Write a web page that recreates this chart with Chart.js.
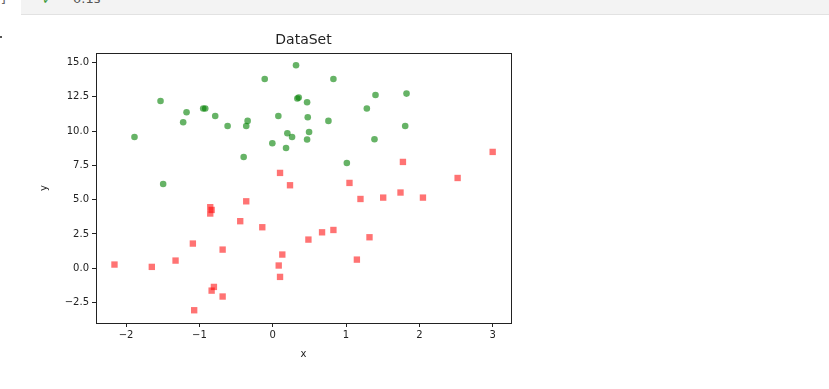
<!DOCTYPE html>
<html>
<head>
<meta charset="utf-8">
<script src="https://cdn.jsdelivr.net/npm/chart.js@4.4.1/dist/chart.umd.min.js"></script>
<style>
  html, body { margin: 0; padding: 0; background: #fff; }
  body { width: 829px; height: 389px; position: relative; overflow: hidden; font-family: "DejaVu Sans", sans-serif; }
  #bar { position: absolute; left: 21px; top: 0; width: 808px; height: 14px; background: #f3f3f3; border-bottom: 1px solid #e2e2e2; }
  #check { position: absolute; left: 42px; top: -8px; color: #3c9a3c; font-size: 13px; }
  #time { position: absolute; left: 73px; top: -9px; color: #555; font-size: 13px; }
  #prompt { position: absolute; left: -4px; top: -9px; color: #666; font-size: 13px; }
  #dot { position: absolute; left: 0; top: 36px; width: 2px; height: 2px; background: #555; }
  canvas { position: absolute; left: 0; top: 0; }
</style>
</head>
<body>
<div id="bar"></div>
<div id="prompt">-]</div>
<div id="check">&#10003;</div>
<div id="time">0.1s</div>
<div id="dot"></div>
<canvas id="chart" width="829" height="389"></canvas>
<script>
// values
const greenX = [-1.885, -1.530, -1.494, -1.221, -1.175, -0.948, -0.920, -0.784, -0.615, -0.396, -0.361,
  -0.342, -0.109, -0.005, 0.077, 0.182, 0.200, 0.264, 0.318, 0.336, 0.355, 0.469, 0.469, 0.478, 0.496,
  0.760, 0.828, 1.011, 1.284, 1.388, 1.402, 1.807, 1.825];
const greenY = [9.57, 12.19, 6.14, 10.64, 11.37, 11.64, 11.64, 11.10, 10.37, 8.11, 10.37,
  10.74, 13.80, 9.11, 11.10, 8.77, 9.84, 9.57, 14.80, 12.37, 12.44, 12.10, 9.38, 11.01, 9.93,
  10.74, 13.80, 7.67, 11.64, 9.40, 12.63, 10.37, 12.73];

const redX = [-2.158, -1.649, -1.325, -1.089, -1.071, -0.852, -0.833, -0.852, -0.833, -0.802, -0.683,
  -0.683, -0.443, -0.361, -0.142, 0.082, 0.100, 0.100, 0.131, 0.236, 0.487, 0.673, 0.828, 1.047,
  1.148, 1.197, 1.320, 1.507, 1.743, 1.776, 2.049, 2.522, 3.000];
const redY = [0.27, 0.10, 0.56, 1.80, -3.06, 4.45, 4.25, 3.99, -1.63, -1.36, 1.36,
  -2.06, 3.43, 4.88, 2.99, 0.20, 6.95, -0.63, 1.00, 6.05, 2.09, 2.62, 2.79, 6.22,
  0.63, 5.05, 2.26, 5.15, 5.52, 7.75, 5.15, 6.58, 8.48];

const xTicks = [-2, -1, 0, 1, 2, 3];
const yTicks = [-2.5, 0.0, 2.5, 5.0, 7.5, 10.0, 12.5, 15.0];
const chartTitle = "DataSet";

const toPoints = (xs, ys) => xs.map((x, i) => ({ x: x, y: ys[i] }));
const minus = (s) => s.replace("-", "\u2212");

// frame + title, like matplotlib axes
const framePlugin = {
  id: "frame",
  afterDraw(chart) {
    const { ctx, chartArea } = chart;
    ctx.save();
    ctx.strokeStyle = "#222";
    ctx.lineWidth = 1;
    ctx.strokeRect(Math.round(chartArea.left) + 0.5, Math.round(chartArea.top) + 0.5,
      Math.round(chartArea.right - chartArea.left), Math.round(chartArea.bottom - chartArea.top));
    ctx.fillStyle = "#222";
    ctx.font = "14px 'DejaVu Sans'";
    ctx.textAlign = "center";
    ctx.textBaseline = "middle";
    ctx.fillText(chartTitle, (chartArea.left + chartArea.right) / 2, 40.5);
    ctx.restore();
  },
};

const tickFont = { family: "DejaVu Sans", size: 10 };

new Chart(document.getElementById("chart"), {
  type: "scatter",
  data: {
    datasets: [
      {
        label: "green",
        data: toPoints(greenX, greenY),
        pointStyle: "circle",
        pointRadius: 3.3,
        pointHoverRadius: 3.3,
        backgroundColor: "rgba(0, 128, 0, 0.6)",
        borderWidth: 0,
      },
      {
        label: "red",
        data: toPoints(redX, redY),
        pointStyle: "rect",
        pointRadius: 4.5,
        pointHoverRadius: 4.5,
        backgroundColor: "rgba(255, 0, 0, 0.55)",
        borderWidth: 0,
      },
    ],
  },
  options: {
    responsive: false,
    animation: false,
    events: [],
    layout: { padding: { left: 34, right: 318, top: 53, bottom: 25 } },
    plugins: { legend: { display: false }, tooltip: { enabled: false } },
    scales: {
      x: {
        type: "linear",
        min: -2.41,
        max: 3.25,
        afterFit(scale) { scale.height = 41; },
        afterBuildTicks(scale) { scale.ticks = xTicks.map((v) => ({ value: v })); },
        ticks: {
          includeBounds: false,
          autoSkip: false,
          maxRotation: 0,
          padding: 2,
          color: "#222",
          font: tickFont,
          callback: (v) => minus(String(v)),
        },
        grid: { drawOnChartArea: false, drawTicks: true, tickLength: 4, color: "#222" },
        border: { display: true, color: "#222" },
        title: { display: true, text: "x", color: "#222", font: tickFont, padding: { top: 4, bottom: 4 } },
      },
      y: {
        type: "linear",
        min: -3.99,
        max: 15.69,
        afterFit(scale) { scale.width = 62; },
        afterBuildTicks(scale) { scale.ticks = yTicks.map((v) => ({ value: v })); },
        ticks: {
          includeBounds: false,
          autoSkip: false,
          padding: 3,
          color: "#222",
          font: tickFont,
          callback: (v) => minus(Number(v).toFixed(1)),
        },
        grid: { drawOnChartArea: false, drawTicks: true, tickLength: 4, color: "#222" },
        border: { display: true, color: "#222" },
        title: { display: true, text: "y", color: "#222", font: tickFont, padding: { top: 4, bottom: 4 } },
      },
    },
  },
  plugins: [framePlugin],
});
</script>
</body>
</html>
